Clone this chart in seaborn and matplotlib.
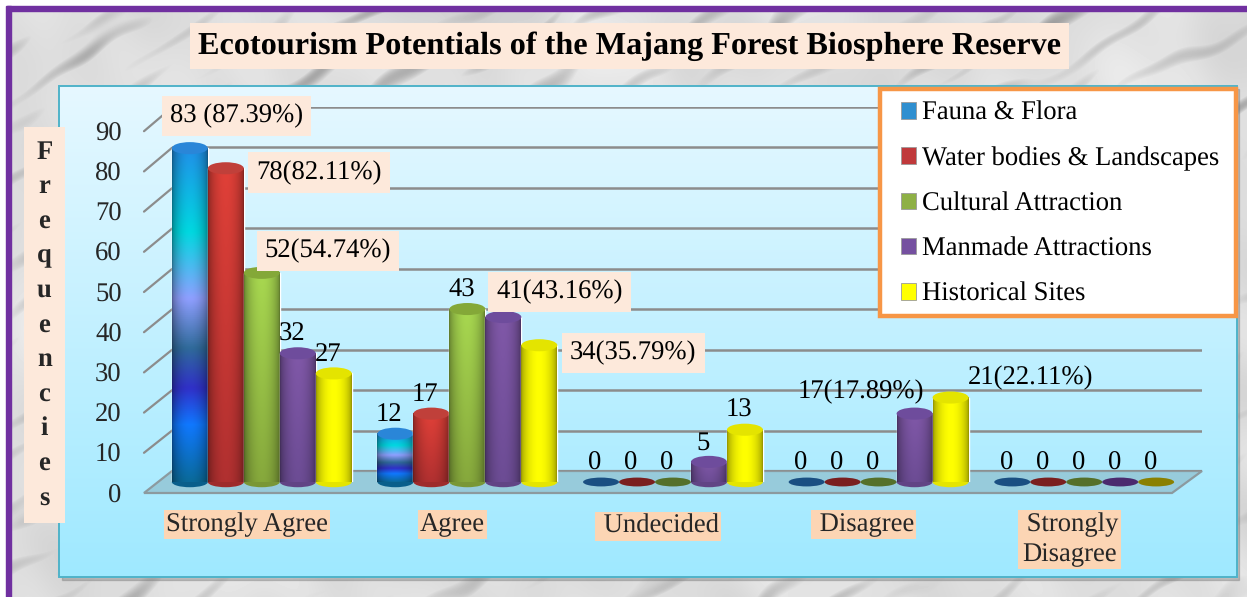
import numpy as np
import pandas as pd
import matplotlib
matplotlib.use("Agg")
import matplotlib.pyplot as plt
import matplotlib.colors as mcolors
from matplotlib.patches import Ellipse, Polygon, Rectangle
from matplotlib.transforms import ScaledTranslation
import seaborn as sns

# data
ratings = ["Strongly Agree", "Agree", " Undecided", " Disagree", " Strongly\nDisagree"]
fauna = [83, 12, 0, 0, 0]
water = [78, 17, 0, 0, 0]
cultural = [52, 43, 0, 0, 0]
manmade = [32, 41, 5, 17, 0]
historical = [27, 34, 13, 21, 0]
series_names = ["Fauna & Flora", "Water bodies & Landscapes", "Cultural Attraction",
                "Manmade Attractions", "Historical Sites"]
y_ticks = [0, 10, 20, 30, 40, 50, 60, 70, 80, 90]
title = "Ecotourism Potentials of the Majang Forest Biosphere Reserve"

# what is written above each bar (None means just the value)
bar_texts = [
    ["83 (87.39%)", None, None, None, None],
    ["78(82.11%)", None, None, None, None],
    ["52(54.74%)", None, None, None, None],
    [None, "41(43.16%)", None, "17(17.89%)", None],
    [None, "34(35.79%)", None, "21(22.11%)", None],
]

W, H = 1247, 597
PEACH = "#fde9db"
TICK_BG = "#fcd5b4"
FS = 19.2

# label placement in pixels from the top of the bar, only where it is not the default
DEFAULT_OFFSET = (-6, 19)
label_offsets = {
    (0, 0): (47, 32), (1, 0): (93, -4), (2, 0): (66, 22),
    (3, 1): (56, 25), (4, 1): (94, -8),
    (3, 3): (-54, 22), (4, 3): (80, 20),
}

# colours of the cylinders: body stops from bottom to top, top cap, flat cap for zeros
body_stops = [
    [(0, "#0a6a9a"), (.17, "#1078ff"), (.28, "#3030c8"), (.4, "#2f6a9a"), (.55, "#8f9fff"), (.75, "#00d8e0"), (1, "#2090e8")],
    [(0, "#b03030"), (1, "#e04038")],
    [(0, "#86a83c"), (1, "#a8d850")],
    [(0, "#6c4c94"), (1, "#8058a8")],
    [(0, "#ffff00"), (1, "#ffff00")],
]
cap_colors = ["#2a86d8", "#c0403a", "#84a838", "#6e4c9c", "#e4e400"]
flat_colors = ["#1a4f82", "#7a1f1f", "#55702a", "#4b2a6e", "#8a8000"]
legend_colors = ["#2f8fd0", "#c0393b", "#8eb045", "#7550a0", "#ffff00"]


def px_axes(fig, left, top, width, height, **kw):
    # axes placed with picture pixels, y counted from the top
    return fig.add_axes([left / W, 1 - (top + height) / H, width / W, height / H], **kw)


def marble():
    # light stone with short dark diagonal streaks
    yy, xx = np.mgrid[0:H, 0:W]
    u = xx * .85 - yy * .52
    v = xx * .52 + yy * .85
    wobble = np.zeros((H, W))
    streak = np.zeros((H, W))
    for i in range(1, 25):
        ang = i * 2.39996
        wl = 9 + 40 * ((i * .618) % 1)
        wobble += np.sin((xx * np.cos(ang) + yy * np.sin(ang)) / wl + i * 1.3)
    wobble /= wobble.std()
    for i in range(1, 21):
        tilt = np.sin(i * 2.1)
        along = 22 + 50 * ((i * .382) % 1)
        across = 3 + 9 * ((i * .618) % 1)
        streak += np.sin(u * tilt / along + v / across + wobble * .7 + i * 1.9)
    streak /= streak.std()
    dark = np.clip(streak - .7, 0, 2.4)
    return np.clip(.87 + wobble * .018 - dark * .1, .5, .96)


def cylinder_image(stops, rows=160, cols=40):
    pos = [s[0] for s in stops]
    rgb = np.array([mcolors.to_rgb(s[1]) for s in stops])
    f = np.linspace(1, 0, rows)
    vert = np.stack([np.interp(f, pos, rgb[:, k]) for k in range(3)], axis=1)
    t = np.linspace(0, 1, cols)
    shade = .6 + .4 * np.sin(np.pi * t) ** .6
    return np.clip(vert[:, None, :] * shade[None, :, None], 0, 1)


def main():
    sns.set_theme(style="white")
    plt.rcParams["font.family"] = ["Liberation Serif", "DejaVu Serif"]
    plt.rcParams["text.color"] = "black"
    plt.rcParams["text.hinting"] = "no_hinting"

    df = pd.DataFrame({"Rating": ratings, series_names[0]: fauna, series_names[1]: water,
                       series_names[2]: cultural, series_names[3]: manmade,
                       series_names[4]: historical})
    long_df = df.melt(id_vars="Rating", var_name="Category", value_name="Count")

    fig = plt.figure(figsize=(W / 100, H / 100), dpi=100)

    # background in picture pixels
    bg = fig.add_axes([0, 0, 1, 1])
    bg.set_xlim(0, W)
    bg.set_ylim(H, 0)
    bg.set_axis_off()
    bg.imshow(marble(), cmap="gray", vmin=0, vmax=1, extent=(0, W, H, 0), aspect="auto", zorder=0,
              interpolation="bilinear")
    bg.add_patch(Rectangle((0, 0), W, 8, color="white", zorder=1))
    bg.add_patch(Rectangle((0, 0), 7, H, color="white", zorder=1))
    bg.add_patch(Rectangle((7, 6), W, 5, color="#7030a0", zorder=2))
    bg.add_patch(Rectangle((6, 6), 5, H, color="#7030a0", zorder=2))
    bg.add_patch(Rectangle((62, 89), 1177, 491, color="#6e6e6e", alpha=.35, zorder=3))
    grad = np.linspace(0, 1, 256)[:, None, None] * (np.array(mcolors.to_rgb("#9fe9ff")) - np.array(mcolors.to_rgb("#e6f8ff"))) + np.array(mcolors.to_rgb("#e6f8ff"))
    bg.imshow(grad, extent=(59, 1237, 577, 86), aspect="auto", zorder=4)
    bg.add_patch(Rectangle((59, 86), 1178, 491, fill=False, ec="#4fb3c9", lw=1.4, zorder=5))
    bg.add_patch(Polygon([(144, 493), (172, 471), (1202, 471), (1172, 493)], closed=True,
                         fc="#97cbdb", ec="#8c9a9f", lw=1.6, zorder=6))
    for v in y_ticks[1:]:
        bg.plot([144, 172], [493 - v * 4.02, 471 - v * 4.04], color="#8c8c8c", lw=1.6, zorder=6)
    bg.set_xlim(0, W)
    bg.set_ylim(H, 0)

    # back wall grid
    ax_back = px_axes(fig, 172, 107, 1030, 364)
    ax_back.patch.set_visible(False)
    ax_back.set_ylim(0, 90)
    ax_back.set_yticks(y_ticks)
    ax_back.set_xticks([])
    ax_back.tick_params(left=False, labelleft=False)
    ax_back.grid(axis="y", color="#8c8c8c", lw=1.8)
    sns.despine(ax=ax_back, left=True, bottom=True)

    # front plane holds the axis labels
    ax = px_axes(fig, 144, 131, 1028, 362)
    ax.patch.set_visible(False)
    ax.set_xlim(-.5, 4.5)
    ax.set_ylim(0, 90)
    ax.set_yticks(y_ticks)
    ax.set_xticks(range(len(ratings)))
    ax.set_xticklabels(ratings, linespacing=1.28)
    ax.tick_params(axis="y", length=0, pad=16, labelsize=FS)
    ax.tick_params(axis="x", length=0, pad=14, labelsize=FS)
    for lab in ax.get_xticklabels():
        lab.set_bbox(dict(facecolor=TICK_BG, edgecolor="none", pad=1.5))
        lab.set_multialignment("center")
    # no descender in this word, so it sits a little high otherwise
    und = ax.get_xticklabels()[2]
    und.set_transform(und.get_transform() + ScaledTranslation(0, -.02, fig.dpi_scale_trans))
    ax.set_ylabel("\n".join("Frequencies"), rotation=0, fontsize=FS, fontweight="bold",
                  ha="center", va="center", linespacing=1.54,
                  bbox=dict(facecolor=PEACH, edgecolor="none", pad=9))
    ax.yaxis.set_label_coords(-.097, .464)
    sns.despine(ax=ax, left=True, bottom=True)

    # bars stand half way back on the floor
    ax_bars = px_axes(fig, 159, 120, 1028, 362)
    sns.barplot(data=long_df, x="Rating", y="Count", hue="Category", hue_order=series_names,
                palette=legend_colors, saturation=1, width=.875, gap=0, ax=ax_bars)
    ax_bars.set_xlim(-.5, 4.5)
    ax_bars.set_ylim(0, 90)
    ax_bars.legend_.remove()
    ax_bars.set_axis_off()

    for j, cont in enumerate(ax_bars.containers):
        img = cylinder_image(body_stops[j])
        z = 2 + j * .1
        for i, bar in enumerate(cont):
            x0, w, h = bar.get_x(), bar.get_width(), bar.get_height()
            xc = x0 + w / 2
            bar.set_zorder(z)
            if h > 0:
                ax_bars.add_patch(Ellipse((xc, 0), w, 2.6, fc=tuple(img[-1, 20] * .9), ec="none", zorder=z, clip_on=False))
                ax_bars.imshow(img, extent=(x0, x0 + w, 0, h), aspect="auto", zorder=z + .01, clip_on=False)
                ax_bars.add_patch(Ellipse((xc, h), w, 3.0, fc=cap_colors[j], ec="none", zorder=z + .02, clip_on=False))
            else:
                ax_bars.add_patch(Ellipse((xc, 0), w, 2.2, fc=flat_colors[j], ec="none", zorder=z + .02, clip_on=False))

            text = bar_texts[j][i] or f"{h:.0f}"
            boxed = bar_texts[j][i] is not None and i < 2
            dx, dy = label_offsets.get((j, i), DEFAULT_OFFSET)
            ax_bars.annotate(text, (xc, h), xytext=(dx, dy), textcoords="offset pixels",
                             ha="center", va="center", fontsize=FS, zorder=4, annotation_clip=False,
                             bbox=dict(boxstyle="square,pad=0.3", fc=PEACH, ec="none") if boxed else None)
    ax_bars.set_xlim(-.5, 4.5)
    ax_bars.set_ylim(0, 90)

    # legend box
    ax_bars.add_patch(Rectangle((880, 89), 356, 227, fc="white", ec="#f79646", lw=3.2,
                                transform=bg.transData, zorder=5, clip_on=False))
    handles = [Rectangle((0, 0), 1, 1, fc=c, ec="#9a9a9a", lw=.6) for c in legend_colors]
    leg = ax_bars.legend(handles, series_names, loc="upper left", frameon=False, fontsize=FS,
                         bbox_to_anchor=(901 / W, 1 - 101 / H), bbox_transform=fig.transFigure,
                         borderaxespad=0, borderpad=0, handlelength=.58, handleheight=.58,
                         handletextpad=.2, labelspacing=.78)
    leg.set_zorder(6)

    fig.text(629.5 / W, 1 - 46 / H, title, ha="center", va="center", fontsize=23.25, fontweight="bold",
             bbox=dict(boxstyle="square,pad=0.25", fc=PEACH, ec="none"))

    fig.savefig("out.png", dpi=100)


if __name__ == "__main__":
    main()
